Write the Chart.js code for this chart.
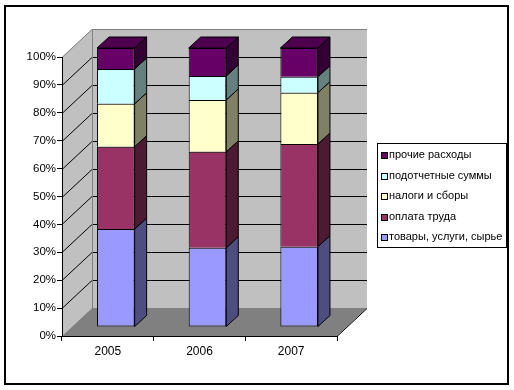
<!DOCTYPE html>
<html>
<head>
<meta charset="utf-8">
<script src="https://cdn.jsdelivr.net/npm/chart.js@4"></script>
<style>
  body { margin: 0; background: #fff; }
  canvas { display: block; }
</style>
</head>
<body>
<canvas id="chart" width="514" height="390"></canvas>
<script>
// categories and series (percent of total)
var years = ['2005', '2006', '2007'];
var goods = [35.1, 28.4, 28.8];
var wages = [29.5, 34.4, 36.8];
var taxes = [15.4, 18.6, 18.4];
var accountable = [12.5, 8.6, 5.7];
var other = [7.5, 10.0, 10.3];
var yTicks = [0, 10, 20, 30, 40, 50, 60, 70, 80, 90, 100];

var FONT = 'Liberation Sans, Arial, sans-serif';
var WALL_DX = 30, WALL_DY = -28;   // depth of the box
var BAR_DX = 8, BAR_DY = -9;       // where bar front faces sit
var SIDE_DX = 12, SIDE_DY = -11;   // depth of the bars

var walls = {
  id: 'walls',
  beforeDraw: function (chart) {
    var c = chart.ctx, a = chart.chartArea, ys = chart.scales.y;
    c.save();
    // left wall
    c.fillStyle = '#c0c0c0';
    c.beginPath();
    c.moveTo(a.left, a.top);
    c.lineTo(a.left + WALL_DX, a.top + WALL_DY);
    c.lineTo(a.left + WALL_DX, a.bottom + WALL_DY);
    c.lineTo(a.left, a.bottom);
    c.closePath();
    c.fill();
    // back wall
    c.fillRect(a.left + WALL_DX, a.top + WALL_DY, a.right - a.left, a.bottom - a.top);
    // floor
    c.fillStyle = '#808080';
    c.beginPath();
    c.moveTo(a.left, a.bottom);
    c.lineTo(a.left + WALL_DX, a.bottom + WALL_DY);
    c.lineTo(a.right + WALL_DX, a.bottom + WALL_DY);
    c.lineTo(a.right, a.bottom);
    c.closePath();
    c.fill();
    // gridlines on side and back wall
    c.lineWidth = 1;
    yTicks.forEach(function (v) {
      if (v === 0) return;
      var y = Math.round(ys.getPixelForValue(v)) + 0.5;
      c.strokeStyle = v === 100 ? '#808080' : '#000';
      c.beginPath();
      c.moveTo(a.left, y);
      c.lineTo(a.left + WALL_DX, y + WALL_DY);
      c.lineTo(a.right + WALL_DX, y + WALL_DY);
      c.stroke();
    });
    c.strokeStyle = '#808080';
    c.beginPath();
    c.moveTo(a.left + WALL_DX + 0.5, a.top + WALL_DY);
    c.lineTo(a.left + WALL_DX + 0.5, a.bottom + WALL_DY);
    c.stroke();
    // right edge of the floor
    c.strokeStyle = '#000';
    c.beginPath();
    c.moveTo(a.right, a.bottom + 0.5);
    c.lineTo(a.right + WALL_DX, a.bottom + WALL_DY + 0.5);
    c.stroke();
    c.restore();
  },
  beforeDatasetsDraw: function (chart) {
    chart.ctx.save();
    chart.ctx.translate(BAR_DX, BAR_DY);
  },
  afterDatasetsDraw: function (chart) {
    var c = chart.ctx;
    var n = chart.data.datasets.length;
    c.lineWidth = 1;
    c.strokeStyle = '#000';
    chart.data.datasets.forEach(function (ds, di) {
      chart.getDatasetMeta(di).data.forEach(function (bar) {
        var p = bar.getProps(['x', 'y', 'base', 'width'], true);
        var xl = p.x - p.width / 2, xr = p.x + p.width / 2;
        var top = Math.min(p.y, p.base), bot = Math.max(p.y, p.base);
        c.fillStyle = ds.sideColor;
        c.beginPath();
        c.moveTo(xr, top);
        c.lineTo(xr + SIDE_DX, top + SIDE_DY);
        c.lineTo(xr + SIDE_DX, bot + SIDE_DY);
        c.lineTo(xr, bot);
        c.closePath();
        c.fill();
        c.stroke();
        if (di === n - 1) {
          c.fillStyle = ds.topColor;
          c.beginPath();
          c.moveTo(xl, top);
          c.lineTo(xl + SIDE_DX, top + SIDE_DY);
          c.lineTo(xr + SIDE_DX, top + SIDE_DY);
          c.lineTo(xr, top);
          c.closePath();
          c.fill();
          c.stroke();
        }
      });
    });
    c.restore();
  },
  afterDraw: function (chart) {
    var c = chart.ctx;
    c.save();
    // legend box
    c.fillStyle = '#fff';
    c.strokeStyle = '#000';
    c.lineWidth = 1;
    c.fillRect(377.5, 143.5, 129, 104);
    c.strokeRect(377.5, 143.5, 129, 104);
    var dss = chart.data.datasets.slice().reverse();
    c.font = '11px ' + FONT;
    c.textBaseline = 'middle';
    dss.forEach(function (ds, i) {
      var y = 155 + i * 20.6;
      c.fillStyle = ds.backgroundColor;
      c.fillRect(381.5, Math.round(y - 3) + 0.5, 6, 6);
      c.strokeRect(381.5, Math.round(y - 3) + 0.5, 6, 6);
      c.fillStyle = '#000';
      c.fillText(ds.label, 389, y);
    });
    // outer frame
    c.lineWidth = 2;
    c.strokeRect(5, 6, 503, 378);
    c.restore();
  }
};

function series(label, data, front, side, top, first) {
  return {
    label: label, data: data,
    backgroundColor: front, sideColor: side, topColor: top || side,
    borderColor: '#000', borderSkipped: false,
    borderWidth: { top: 1, left: 1, right: 1, bottom: first ? 1 : 0 },
    categoryPercentage: 1, barPercentage: 0.41
  };
}

new Chart(document.getElementById('chart'), {
  type: 'bar',
  data: {
    labels: years,
    datasets: [
      series('товары, услуги, сырье', goods, '#9999ff', '#4d4d80', null, true),
      series('оплата труда', wages, '#993366', '#4d1a33'),
      series('налоги и сборы', taxes, '#ffffcc', '#808066'),
      series('подотчетные суммы', accountable, '#ccffff', '#668080'),
      series('прочие расходы', other, '#660066', '#330033', '#4d004d')
    ]
  },
  options: {
    responsive: false,
    animation: false,
    clip: false,
    layout: { padding: { left: 0, top: 57, right: 177, bottom: 0 } },
    plugins: { legend: { display: false }, tooltip: { enabled: false } },
    scales: {
      x: {
        stacked: true,
        afterFit: function (s) { s.height = 54; },
        grid: { drawOnChartArea: false, drawTicks: true, tickLength: 5, color: '#000' },
        border: { display: true, color: '#000' },
        ticks: { color: '#000', font: { family: FONT, size: 12 }, padding: 3 }
      },
      y: {
        stacked: true,
        min: 0, max: 100,
        afterFit: function (s) { s.width = 62; },
        afterBuildTicks: function (s) { s.ticks = yTicks.map(function (v) { return { value: v }; }); },
        grid: { drawOnChartArea: false, drawTicks: true, tickLength: 5, color: '#000' },
        border: { display: true, color: '#000' },
        ticks: {
          color: '#000', font: { family: FONT, size: 11.5 }, padding: 1,
          callback: function (v) { return v + '%'; }
        }
      }
    }
  },
  plugins: [walls]
});
</script>
</body>
</html>
